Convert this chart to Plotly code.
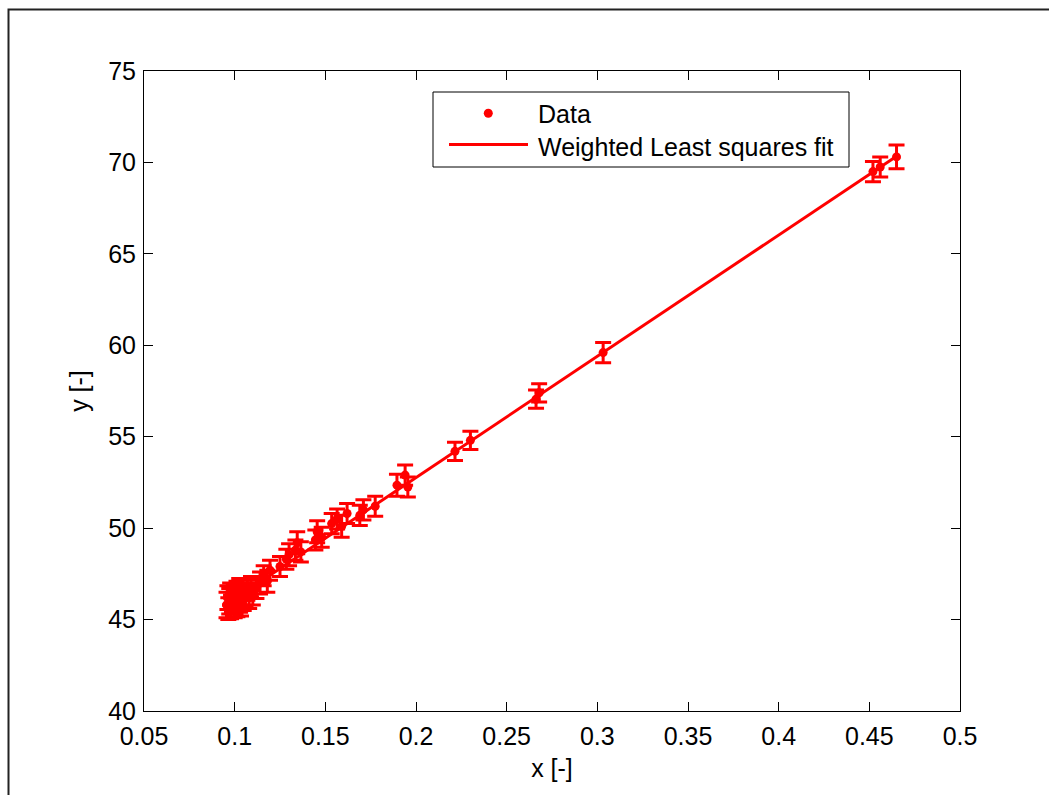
import plotly.graph_objects as go

# ---- data ----
x_data = [0.0955, 0.0960, 0.0965, 0.0970, 0.0975, 0.0980, 0.0985, 0.0990, 0.0995, 0.1000,
          0.1005, 0.1010, 0.1015, 0.1020, 0.1025, 0.1030, 0.1035, 0.1040, 0.1045, 0.1050,
          0.1060, 0.1070, 0.1080, 0.1090, 0.1100, 0.1120, 0.1140, 0.1160, 0.1180, 0.1195,
          0.1250, 0.1285, 0.1300, 0.1335, 0.1345, 0.1365, 0.1445, 0.1455, 0.1480, 0.1535,
          0.1565, 0.1590, 0.1620, 0.1690, 0.1710, 0.1775, 0.1895, 0.1940, 0.1955, 0.2215,
          0.2300, 0.2662, 0.2679, 0.3032, 0.4520, 0.4560, 0.4650]
y_data = [45.8, 46.2, 45.6, 46.0, 46.4, 45.7, 46.1, 45.9, 46.3, 45.7,
          46.0, 46.5, 45.8, 46.2, 46.6, 46.0, 45.9, 46.4, 46.7, 46.1,
          46.3, 46.6, 46.2, 46.8, 46.4, 46.7, 47.0, 47.4, 47.1, 47.7,
          47.9, 48.3, 48.55, 48.8, 49.2, 48.7, 49.35, 49.8, 49.5, 50.25,
          50.5, 50.1, 50.8, 50.7, 51.0, 51.2, 52.35, 52.9, 52.25, 54.2,
          54.8, 57.05, 57.4, 59.6, 69.5, 69.75, 70.3]
y_err = [0.7, 0.65, 0.6, 0.7, 0.6, 0.65, 0.7, 0.6, 0.65, 0.6,
         0.7, 0.6, 0.65, 0.6, 0.65, 0.6, 0.7, 0.6, 0.55, 0.6,
         0.6, 0.55, 0.6, 0.55, 0.6, 0.55, 0.6, 0.55, 0.6, 0.55,
         0.55, 0.55, 0.6, 0.55, 0.6, 0.55, 0.55, 0.6, 0.55, 0.55,
         0.55, 0.6, 0.55, 0.55, 0.55, 0.55, 0.6, 0.55, 0.55, 0.5,
         0.5, 0.5, 0.5, 0.55, 0.55, 0.55, 0.65]

fit_x = [0.0950, 0.4650]
fit_y = [45.80, 70.34]

x_ticks = [0.05, 0.1, 0.15, 0.2, 0.25, 0.3, 0.35, 0.4, 0.45, 0.5]
x_tick_labels = ["0.05", "0.1", "0.15", "0.2", "0.25", "0.3", "0.35", "0.4", "0.45", "0.5"]
y_ticks = [40, 45, 50, 55, 60, 65, 70, 75]

legend_names = ["Data", "Weighted Least squares fit"]

RED = "#FF0000"
FONT = "Liberation Sans, Arial, sans-serif"
FS = 25

# plot area in pixels
L, R, T, B = 144, 960, 71, 711
W, H = 1049, 795


def px2paper_x(px):
    return (px - L) / (R - L)


def px2paper_y(py):
    return (B - py) / (B - T)


fig = go.Figure()

fig.add_trace(go.Scatter(
    x=fit_x, y=fit_y, mode="lines",
    line=dict(color=RED, width=3),
    name=legend_names[1], showlegend=False, hoverinfo="skip"))

fig.add_trace(go.Scatter(
    x=x_data, y=y_data, mode="markers",
    marker=dict(color=RED, size=9),
    error_y=dict(type="data", array=y_err, visible=True,
                 color=RED, thickness=3, width=8),
    name=legend_names[0], showlegend=False))

shapes = []
annotations = []

# figure frame (MATLAB-like window border)
shapes.append(dict(type="rect", xref="paper", yref="paper",
                   x0=px2paper_x(8.5), x1=px2paper_x(1070),
                   y0=px2paper_y(820), y1=px2paper_y(9.5),
                   line=dict(color="#222222", width=2), layer="above"))

# legend box
lx0, lx1, ly0, ly1 = 433, 849, 92, 167
shapes.append(dict(type="rect", xref="paper", yref="paper",
                   x0=px2paper_x(lx0), x1=px2paper_x(lx1),
                   y0=px2paper_y(ly1), y1=px2paper_y(ly0),
                   line=dict(color="black", width=1), fillcolor="white",
                   layer="above"))
# legend: data marker
shapes.append(dict(type="circle", xref="paper", yref="paper",
                   x0=px2paper_x(488.3 - 4.5), x1=px2paper_x(488.3 + 4.5),
                   y0=px2paper_y(113.3 + 4.5), y1=px2paper_y(113.3 - 4.5),
                   line=dict(color=RED, width=0), fillcolor=RED, layer="above"))
# legend: fit line
shapes.append(dict(type="line", xref="paper", yref="paper",
                   x0=px2paper_x(449), x1=px2paper_x(528),
                   y0=px2paper_y(144.5), y1=px2paper_y(144.5),
                   line=dict(color=RED, width=3), layer="above"))
for name, cy in zip(legend_names, [113.5, 147]):
    annotations.append(dict(xref="paper", yref="paper",
                            x=px2paper_x(536), y=px2paper_y(cy),
                            xanchor="left", yanchor="middle", showarrow=False,
                            text=name, font=dict(family=FONT, size=FS, color="black")))

axis_common = dict(
    showgrid=False, zeroline=False, showline=True, linecolor="black", linewidth=1,
    mirror="ticks", ticks="inside", ticklen=9, tickwidth=1, tickcolor="black",
    tickfont=dict(family=FONT, size=FS, color="black"),
)

fig.update_layout(
    width=W, height=H,
    margin=dict(l=L, r=W - R, t=T, b=H - B, autoexpand=False),
    paper_bgcolor="white", plot_bgcolor="white",
    showlegend=False,
    shapes=shapes, annotations=annotations,
    xaxis=dict(range=[0.05, 0.5], tickvals=x_ticks, ticktext=x_tick_labels,
               ticklabelstandoff=3,
               title=dict(text="x [-]", font=dict(family=FONT, size=FS, color="black"), standoff=10),
               **axis_common),
    yaxis=dict(range=[40, 75], tickvals=y_ticks, ticklabelstandoff=2,
               title=dict(text="y [-]", font=dict(family=FONT, size=FS, color="black"), standoff=12),
               **axis_common),
)

fig.write_html("out.html")
